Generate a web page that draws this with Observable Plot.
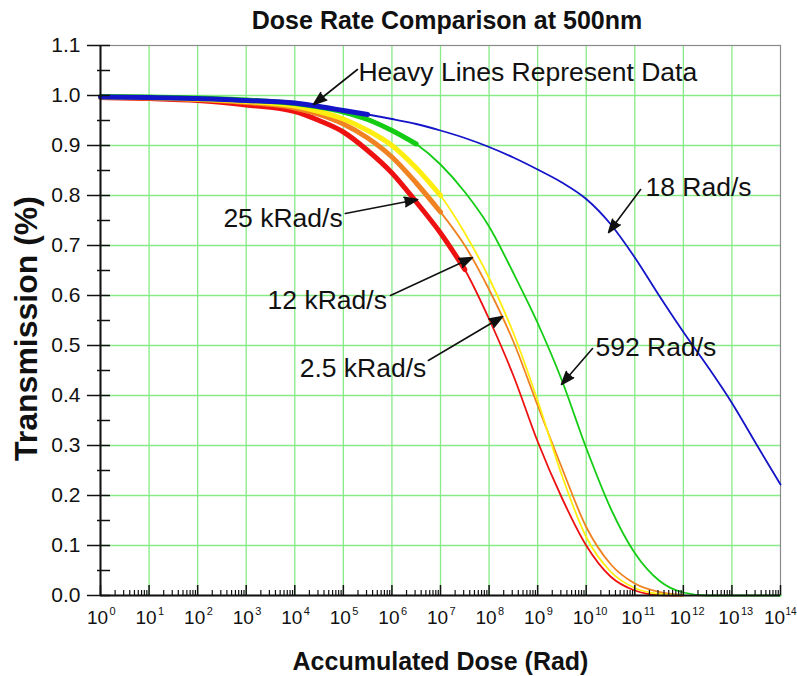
<!DOCTYPE html>
<html>
<head>
<meta charset="utf-8">
<script src="https://cdn.jsdelivr.net/npm/d3@7"></script>
<script src="https://cdn.jsdelivr.net/npm/@observablehq/plot@0.6"></script>
<style>
  body { margin: 0; background: #fff; font-family: "Liberation Sans", Arial, sans-serif; }
  #title { height: 30px; padding: 5px 17px 0 114px; line-height: 30px; text-align: center;
           font-size: 25px; font-weight: bold; color: #111; width: 666px; }
  #chart svg { display: block; }
</style>
</head>
<body>
<div id="title">Dose Rate Comparison at 500nm</div>
<div id="chart"></div>
<script>
// ---- data ----
const exponents = [0,1,2,3,4,4.5,5,5.5,6,6.5,7,7.5,8,8.5,9,9.5,10,10.5,11,11.5,12,12.5,13,13.5,14];
const seriesNames = ["25 kRad/s", "12 kRad/s", "2.5 kRad/s", "592 Rad/s", "18 Rad/s"];
const trans25k  = [0.996,0.994,0.990,0.981,0.968,0.950,0.927,0.890,0.845,0.787,0.725,0.652,0.553,0.440,0.308,0.195,0.100,0.038,0.010,0.001,0.000,null,null,null,null];
const trans12k  = [0.997,0.995,0.992,0.986,0.975,0.962,0.943,0.915,0.877,0.825,0.767,0.700,0.612,0.508,0.380,0.255,0.137,0.063,0.024,0.007,0.001,null,null,null,null];
const trans2_5k = [0.997,0.996,0.993,0.988,0.979,0.968,0.953,0.930,0.900,0.855,0.800,0.725,0.635,0.525,0.390,0.240,0.117,0.048,0.015,0.003,0.000,null,null,null,null];
const trans592  = [0.998,0.997,0.995,0.991,0.984,0.977,0.967,0.952,0.930,0.903,0.862,0.807,0.738,0.645,0.545,0.430,0.295,0.175,0.085,0.030,0.006,0.000,0.000,0.000,0.000];
const trans18   = [0.997,0.996,0.994,0.990,0.985,0.978,0.970,0.962,0.953,0.943,0.930,0.915,0.897,0.876,0.852,0.826,0.793,0.743,0.676,0.600,0.527,0.458,0.385,0.303,0.222];
const dataEndExp = [7.5, 7, 7, 6.5, 5.5];   // measured data (heavy line) ends here
const seriesColors = ["#ee1111", "#f08222", "#ffee10", "#14cc14", "#1414c8"];

const xDecades = [1e0,1e1,1e2,1e3,1e4,1e5,1e6,1e7,1e8,1e9,1e10,1e11,1e12,1e13,1e14];
const yTicks = [0.0,0.1,0.2,0.3,0.4,0.5,0.6,0.7,0.8,0.9,1.0,1.1];
const yMinorTicks = [0.05,0.15,0.25,0.35,0.45,0.55,0.65,0.75,0.85,0.95,1.05];

const noteText = ["Heavy Lines Represent Data", "25 kRad/s", "12 kRad/s", "2.5 kRad/s", "592 Rad/s", "18 Rad/s"];
const noteExp  = [5.31, 2.53, 3.44, 4.10, 10.19, 11.22];
const noteT    = [1.046, 0.754, 0.590, 0.454, 0.496, 0.816];
const arrowFromExp = [5.29, 5.04, 5.97, 6.75, 10.13, 11.12];
const arrowFromT   = [1.052, 0.764, 0.600, 0.470, 0.494, 0.812];
const arrowToExp   = [4.385, 6.53, 7.66, 8.28, 9.49, 10.46];
const arrowToT     = [0.982, 0.792, 0.676, 0.558, 0.422, 0.726];

// ---- build tables ----
const seriesValues = [trans25k, trans12k, trans2_5k, trans592, trans18];
const rows = [];
seriesNames.forEach((name, s) => {
  exponents.forEach((e, i) => {
    rows.push({series: name, e, dose: Math.pow(10, e), t: seriesValues[s][i]});
  });
});
const heavyRows = rows.filter(r => r.e <= dataEndExp[seriesNames.indexOf(r.series)]);
const notes = noteText.map((text, i) => ({
  text, x: Math.pow(10, noteExp[i]), y: noteT[i],
  x1: Math.pow(10, arrowFromExp[i]), y1: arrowFromT[i],
  x2: Math.pow(10, arrowToExp[i]), y2: arrowToT[i]
}));
const xMinorTicks = xDecades.slice(0, -1).flatMap(d => [2,3,4,5,6,7,8,9].map(k => k * d));
const expo = d => String(Math.round(Math.log10(d)));

const W = 797, H = 641, mT = 10, mL = 100, mR = 17, mB = 81;
const frameW = W - mL - mR, frameH = H - mT - mB;
const gridColor = "#86ea86";
const ink = "#111";

const chart = Plot.plot({
  width: W, height: H,
  marginTop: mT, marginLeft: mL, marginRight: mR, marginBottom: mB,
  style: {fontFamily: "'Liberation Sans', Arial, sans-serif", color: ink, background: "#fff", overflow: "visible"},
  x: {type: "log", domain: [1, 1e14]},
  y: {domain: [0, 1.1]},
  color: {domain: seriesNames, range: seriesColors},
  marks: [
    Plot.ruleX(xDecades.slice(1, -1), {stroke: gridColor, strokeWidth: 1.3}),
    Plot.ruleY(yTicks.slice(1, -1), {stroke: gridColor, strokeWidth: 1.3}),
    Plot.frame({stroke: "#8a8a8a", strokeWidth: 1.2}),
    // thin model lines
    Plot.line(rows, {x: "dose", y: "t", z: "series", stroke: "series", strokeWidth: 1.8, curve: "monotone-x"}),
    // heavy data lines
    Plot.line(heavyRows, {x: "dose", y: "t", z: "series", stroke: "series", strokeWidth: 5, curve: "monotone-x"}),
    // axis lines
    Plot.ruleX([1], {stroke: ink, strokeWidth: 2}),
    Plot.ruleY([0], {stroke: ink, strokeWidth: 2}),
    // y axis: outward ticks + labels, inward ticks
    Plot.axisY(yTicks, {tickSize: 13, tickPadding: 7, tickFormat: d3.format(".1f"), fontSize: 21, stroke: ink, strokeWidth: 1.5, label: null}),
    Plot.tickY(yTicks, {y: d => d, insetRight: frameW - 10, stroke: ink, strokeWidth: 1.5}),
    Plot.tickY(yMinorTicks, {y: d => d, insetLeft: -3, insetRight: frameW - 10, stroke: ink, strokeWidth: 1.5}),
    // x axis: inward ticks
    Plot.tickX(xDecades, {x: d => d, insetTop: frameH - 10, stroke: ink, strokeWidth: 1.5}),
    Plot.tickX(xMinorTicks, {x: d => d, insetTop: frameH - 5, stroke: ink, strokeWidth: 1.2}),
    // x tick labels: "10" with superscript exponent
    Plot.axisX(xDecades.slice(0, -1), {tickSize: 0, tickPadding: 15, tickFormat: () => "10", fontSize: 19, dx: -3, label: null}),
    Plot.axisX(xDecades.slice(0, -1), {tickSize: 0, tickPadding: 12, tickFormat: expo, fontSize: 11, dx: 9, textAnchor: "start", label: null}),
    Plot.axisX(xDecades.slice(-1), {tickSize: 0, tickPadding: 15, tickFormat: () => "10", fontSize: 19, dx: -6, label: null}),
    Plot.axisX(xDecades.slice(-1), {tickSize: 0, tickPadding: 12, tickFormat: expo, fontSize: 10, dx: 5, textAnchor: "start", label: null}),
    // axis titles
    Plot.text(["Accumulated Dose (Rad)"], {frameAnchor: "bottom", dy: 66, text: d => d, fontSize: 25, fontWeight: "bold", lineAnchor: "middle", textAnchor: "middle"}),
    Plot.text(["Transmission (%)"], {frameAnchor: "left", dx: -74, dy: 8, rotate: -90, text: d => d, fontSize: 32, fontWeight: "bold", lineAnchor: "middle", textAnchor: "middle"}),
    // annotations
    Plot.arrow(notes, {x1: "x1", y1: "y1", x2: "x2", y2: "y2", stroke: ink, fill: ink, strokeWidth: 1.6, headLength: 13, headAngle: 40}),
    Plot.text(notes, {x: "x", y: "y", text: "text", textAnchor: "start", lineAnchor: "middle", fontSize: 26.5, fill: ink})
  ]
});
document.getElementById("chart").appendChild(chart);
</script>
</body>
</html>
